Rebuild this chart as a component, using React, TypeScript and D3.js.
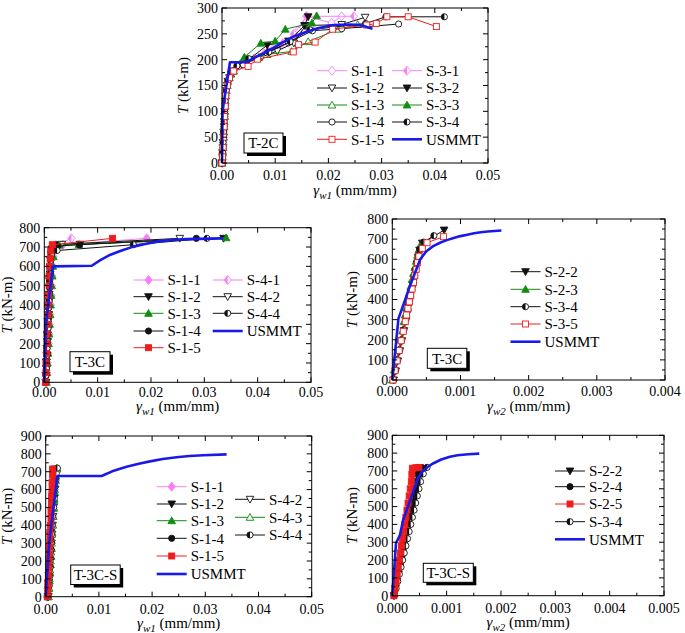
import React from "react";
import * as d3 from "d3";

type Pt = [number, number];

// ================= T-2C (gamma_w1) =================
const t2cRiseA: Pt[] = [[0,0],[0.0001,20],[0.0002,40],[0.0003,60],[0.0004,80],[0.0005,100],[0.0006,120],[0.0008,140],[0.0011,158],[0.0017,172]];
const t2cRiseB: Pt[] = [[0,0],[0.0001,12],[0.0002,30],[0.0003,50],[0.0004,70],[0.0005,90],[0.0006,110],[0.0007,130],[0.001,150],[0.0014,165],[0.0022,178]];
const t2c_S11: Pt[] = [...t2cRiseA, [0.0032,188],[0.006,202],[0.0095,220],[0.0125,233],[0.0143,257],[0.0158,284],[0.0206,271],[0.0225,284]];
const t2c_S31: Pt[] = [...t2cRiseB, [0.0045,196],[0.008,212],[0.0115,232],[0.0135,250],[0.016,284],[0.0248,284]];
const t2c_S12: Pt[] = [...t2cRiseA, [0.004,192],[0.0075,205],[0.0104,217],[0.0135,232],[0.0157,266],[0.0225,268],[0.0269,282]];
const t2c_S32: Pt[] = [...t2cRiseB, [0.005,200],[0.0085,228],[0.0125,236],[0.0155,266],[0.0162,283]];
const t2c_S13: Pt[] = [...t2cRiseA, [0.0045,195],[0.0085,210],[0.0131,216],[0.0162,235],[0.0219,259],[0.0255,268]];
const t2c_S33: Pt[] = [...t2cRiseB, [0.0042,205],[0.0073,232],[0.0100,236],[0.0119,259],[0.0169,271],[0.0178,285]];
const t2c_S14: Pt[] = [...t2cRiseB, [0.004,190],[0.0085,213],[0.0125,233],[0.017,256],[0.0225,260],[0.0332,269]];
const t2c_S34: Pt[] = [...t2cRiseA, [0.0028,188],[0.005,202],[0.0088,215],[0.0128,235],[0.0165,258],[0.027,270],[0.0308,283],[0.0418,283]];
const t2c_S15: Pt[] = [...t2cRiseB, [0.0049,187],[0.0067,201],[0.0134,215],[0.0144,229],[0.0175,234],[0.0208,259],[0.0272,267],[0.029,270],[0.031,283],[0.035,283],[0.0403,264]];
const t2c_USMMT: Pt[] = [[0,0],[0.0001,100],[0.0015,195],[0.0045,195],[0.006,203],[0.0085,216],[0.0115,234],[0.0135,245],[0.0159,254],[0.018,261],[0.0209,267],[0.024,268],[0.026,267],[0.0283,260]];

// ================= T-3C (gamma_w1) =================
const t3cRiseK: Pt[] = [[0.0003,0],[0.0003,35],[0.0004,70],[0.0004,105],[0.0005,140],[0.0005,175],[0.0006,210],[0.0006,245],[0.0007,280],[0.0007,315],[0.0008,350],[0.0008,385],[0.0009,420],[0.0009,455],[0.001,490],[0.001,525],[0.0011,560],[0.0011,595],[0.0012,630],[0.0013,660]];
const t3cRiseP: Pt[] = [[0.0004,0],[0.0005,50],[0.0006,100],[0.0007,150],[0.0008,200],[0.0009,250],[0.001,300],[0.0011,350],[0.0012,400],[0.0013,450],[0.0014,500],[0.0015,550],[0.0016,600],[0.0017,650]];
const t3cRiseR: Pt[] = [[0.0002,0],[0.0003,50],[0.0003,100],[0.0004,150],[0.0005,200],[0.0005,250],[0.0006,300],[0.0007,350],[0.0007,400],[0.0008,450],[0.0009,500],[0.0009,550],[0.001,600],[0.0011,640]];
const t3c_S11: Pt[] = [...t3cRiseP, [0.0019,700],[0.0035,712],[0.0192,745]];
const t3c_S12: Pt[] = [...t3cRiseK, [0.0015,690],[0.0027,712],[0.0067,714],[0.0336,745]];
const t3c_S13: Pt[] = [...t3cRiseP, [0.0019,690],[0.0028,710],[0.0065,713],[0.0341,748]];
const t3c_S14: Pt[] = [...t3cRiseK, [0.0016,690],[0.0025,705],[0.0066,712],[0.0285,745]];
const t3c_S15: Pt[] = [...t3cRiseR, [0.0012,680],[0.0015,712],[0.0128,745]];
const t3c_S41: Pt[] = [...t3cRiseP, [0.0022,710],[0.0051,745]];
const t3c_S42: Pt[] = [...t3cRiseK, [0.0018,700],[0.0033,714],[0.0254,745]];
const t3c_S44: Pt[] = [...t3cRiseK, [0.0024,682],[0.0167,712],[0.0305,745]];
const t3c_USMMT: Pt[] = [[0,0],[0.0003,300],[0.0016,600],[0.0089,603],[0.0105,632],[0.0123,659],[0.0145,682],[0.0167,702],[0.0189,716],[0.0211,728],[0.0238,736],[0.0267,741],[0.0335,745]];

// ================= T-3C (gamma_w2) =================
const t3cw2_S22: Pt[] = [[0.00002,0],[0.00005,45],[0.00008,95],[0.00011,145],[0.00014,195],[0.00017,245],[0.0002,295],[0.00022,330],[0.00024,365],[0.00026,400],[0.00028,435],[0.0003,470],[0.00032,505],[0.00034,540],[0.00036,575],[0.00038,610],[0.0004,645],[0.00044,680],[0.00076,745]];
const t3cw2_S23: Pt[] = [[0,0],[0.00003,50],[0.00006,100],[0.00009,150],[0.00012,200],[0.00015,245],[0.00017,290],[0.00019,325],[0.00021,360],[0.00023,395],[0.00025,430],[0.00027,465],[0.00029,500],[0.00031,530],[0.00033,560],[0.00035,590],[0.00037,620],[0.00039,648],[0.00043,680]];
const t3cw2_S34: Pt[] = [[0.00002,0],[0.00005,50],[0.00008,100],[0.00011,150],[0.00014,200],[0.00017,250],[0.0002,300],[0.00023,350],[0.00025,390],[0.00027,430],[0.0003,470],[0.00032,510],[0.00034,550],[0.00036,590],[0.00038,620],[0.0004,650],[0.00046,685],[0.00061,717]];
const t3cw2_S35: Pt[] = [[0.00001,0],[0.00004,46],[0.00007,95],[0.0001,146],[0.00013,195],[0.00016,242],[0.00019,290],[0.00021,323],[0.00023,355],[0.00025,388],[0.00027,420],[0.00029,452],[0.00031,485],[0.00033,518],[0.00035,550],[0.00037,583],[0.00039,615],[0.00044,654],[0.00051,682],[0.00075,712]];
const t3cw2_USMMT: Pt[] = [[0,0],[0.00009,305],[0.00017,380],[0.00025,460],[0.00041,600],[0.0005,640],[0.0006,665],[0.0007,682],[0.0008,695],[0.0009,706],[0.001,715],[0.0011,722],[0.0012,729],[0.0013,734],[0.0014,738],[0.0016,743]];

// ================= T-3C-S (gamma_w1) =================
const t3cs_S11: Pt[] = [[0.0002,0],[0.0003,45],[0.0004,90],[0.0005,135],[0.0005,180],[0.0006,225],[0.0007,270],[0.0007,315],[0.0008,360],[0.0009,405],[0.0009,450],[0.001,495],[0.0011,540],[0.0011,585],[0.0012,630]];
const t3cs_S15: Pt[] = [[0.0003,0],[0.0004,40],[0.0004,80],[0.0005,120],[0.0006,160],[0.0006,200],[0.0007,240],[0.0007,280],[0.0008,320],[0.0008,360],[0.0009,400],[0.001,440],[0.001,480],[0.0011,520],[0.0011,560],[0.0012,600],[0.0012,640],[0.0013,680],[0.0013,715]];
const t3cs_S12: Pt[] = [[0.0004,0],[0.0005,40],[0.0006,80],[0.0006,120],[0.0007,160],[0.0008,200],[0.0008,240],[0.0009,280],[0.001,320],[0.001,360],[0.0011,400],[0.0012,440],[0.0012,480],[0.0013,520],[0.0014,560],[0.0015,600],[0.0016,640],[0.0017,680],[0.0018,715]];
const t3cs_S13: Pt[] = [[0.0005,0],[0.0006,45],[0.0007,90],[0.0008,135],[0.0009,180],[0.001,225],[0.0011,270],[0.0011,315],[0.0012,360],[0.0013,405],[0.0014,450],[0.0015,495],[0.0016,540],[0.0017,585],[0.0018,630],[0.0019,675],[0.0021,720]];
const t3cs_S14: Pt[] = [[0.0004,0],[0.0005,45],[0.0006,90],[0.0007,135],[0.0007,180],[0.0008,225],[0.0009,270],[0.001,315],[0.001,360],[0.0011,405],[0.0012,450],[0.0013,495],[0.0013,540],[0.0014,585],[0.0015,630],[0.0016,675],[0.0017,712]];
const t3cs_S42: Pt[] = [[0.0005,0],[0.0006,50],[0.0007,100],[0.0008,150],[0.0009,200],[0.001,250],[0.0011,300],[0.0012,350],[0.0013,400],[0.0014,450],[0.0015,500],[0.0016,550],[0.0017,600],[0.0018,650],[0.002,700]];
const t3cs_S43: Pt[] = [[0.0005,0],[0.0006,50],[0.0007,100],[0.0008,150],[0.0009,200],[0.001,250],[0.0011,300],[0.0012,350],[0.0013,400],[0.0014,450],[0.0015,500],[0.0016,550],[0.0017,600],[0.0019,650],[0.0021,715]];
const t3cs_S44: Pt[] = [[0.0004,0],[0.0005,50],[0.0006,100],[0.0007,150],[0.0008,200],[0.0009,250],[0.001,300],[0.0011,350],[0.0012,400],[0.0013,450],[0.0015,500],[0.0016,550],[0.0017,600],[0.0019,650],[0.002,690],[0.0022,720]];
const t3cs_USMMT: Pt[] = [[0,0],[0.00068,308],[0.0022,676],[0.0105,676],[0.0125,702],[0.0152,728],[0.0175,745],[0.0196,758],[0.022,771],[0.0246,781],[0.027,788],[0.0296,792],[0.034,797]];

// ================= T-3C-S (gamma_w2) =================
const t3csw2_S22: Pt[] = [[0.00003,0],[0.00006,40],[0.00008,80],[0.00011,120],[0.00013,160],[0.00016,200],[0.00018,240],[0.00021,280],[0.00023,320],[0.00026,360],[0.00028,400],[0.00031,440],[0.00033,480],[0.00036,520],[0.00038,560],[0.00041,600],[0.00043,640],[0.00046,680],[0.0005,718]];
const t3csw2_S24: Pt[] = [[0.00003,0],[0.00006,45],[0.00009,90],[0.00012,135],[0.00015,180],[0.00018,225],[0.00021,270],[0.00024,315],[0.00027,360],[0.0003,405],[0.00033,450],[0.00036,495],[0.00039,540],[0.00042,585],[0.00045,630],[0.00048,675],[0.00055,718]];
const t3csw2_S25: Pt[] = [[0.00003,0],[0.00005,40],[0.00007,80],[0.00009,120],[0.00011,160],[0.00013,200],[0.00015,240],[0.00017,280],[0.00019,320],[0.00021,360],[0.00023,400],[0.00025,440],[0.00027,480],[0.00029,520],[0.00031,560],[0.00033,600],[0.00035,640],[0.00036,680],[0.00037,715],[0.00043,718],[0.00049,720]];
const t3csw2_S34: Pt[] = [[0.00004,0],[0.00007,40],[0.0001,80],[0.00013,120],[0.00016,160],[0.00019,200],[0.00022,240],[0.00025,280],[0.00028,320],[0.00031,360],[0.00034,400],[0.00037,440],[0.0004,480],[0.00043,520],[0.00046,560],[0.00049,600],[0.00052,640],[0.00057,684],[0.00064,720]];
const t3csw2_USMMT: Pt[] = [[0,0],[0.000068,294],[0.00014,340],[0.0002,425],[0.00048,665],[0.00055,695],[0.00065,722],[0.00075,742],[0.0009,764],[0.00106,780],[0.0012,788],[0.0014,794],[0.0016,797]];

// ================= ticks =================
const ticksX05 = [0, 0.01, 0.02, 0.03, 0.04, 0.05];
const ticksX004 = [0, 0.001, 0.002, 0.003, 0.004];
const ticksX005 = [0, 0.001, 0.002, 0.003, 0.004, 0.005];
const ticksY300 = [0, 50, 100, 150, 200, 250, 300];
const ticksY800 = [0, 100, 200, 300, 400, 500, 600, 700, 800];
const ticksY900 = [0, 100, 200, 300, 400, 500, 600, 700, 800, 900];

const FONT = "Liberation Serif";
const PINK = "#f77ff7";
const GREEN = "#118c11";
const RED = "#f01c1c";
const BLACK = "#111";
const BLUE = "#1a1ae8";

type Kind = "diamond" | "diamondFill" | "diamondHalf" | "triDown" | "triDownFill" | "triUp" | "triUpFill" | "circle" | "circleFill" | "circleHalf" | "square" | "squareFill";
interface Series { name: string; data: Pt[]; color: string; kind: Kind; }

function Marker({ kind, color, cx, cy }: { kind: Kind; color: string; cx: number; cy: number }) {
  const sw = 0.9;
  switch (kind) {
    case "diamond":
    case "diamondFill":
    case "diamondHalf": {
      const d = `M${cx},${cy - 4.5}L${cx + 3.6},${cy}L${cx},${cy + 4.5}L${cx - 3.6},${cy}Z`;
      return (
        <g>
          <path d={d} fill={kind === "diamondFill" ? color : "#fff"} stroke={color} strokeWidth={sw} />
          {kind === "diamondHalf" && <path d={`M${cx},${cy - 4.5}L${cx - 3.6},${cy}L${cx},${cy + 4.5}Z`} fill={color} />}
        </g>
      );
    }
    case "triDown":
    case "triDownFill":
      return <path d={`M${cx - 3.8},${cy - 3}L${cx + 3.8},${cy - 3}L${cx},${cy + 3.8}Z`} fill={kind === "triDownFill" ? color : "#fff"} stroke={color} strokeWidth={sw} />;
    case "triUp":
    case "triUpFill":
      return <path d={`M${cx - 3.8},${cy + 3}L${cx + 3.8},${cy + 3}L${cx},${cy - 3.8}Z`} fill={kind === "triUpFill" ? color : "#fff"} stroke={color} strokeWidth={sw} />;
    case "circle":
    case "circleFill":
    case "circleHalf":
      return (
        <g>
          <circle cx={cx} cy={cy} r={3.1} fill={kind === "circleFill" ? color : "#fff"} stroke={color} strokeWidth={sw} />
          {kind === "circleHalf" && <path d={`M${cx},${cy - 3.1}A3.1,3.1 0 0 0 ${cx},${cy + 3.1}Z`} fill={color} />}
        </g>
      );
    case "square":
    case "squareFill":
      return <rect x={cx - 3} y={cy - 3} width={6} height={6} fill={kind === "squareFill" ? color : "#fff"} stroke={color} strokeWidth={sw} />;
  }
  return null;
}

interface LegendItem { name: string; x: number; y: number; }
interface PanelCfg {
  left: number; right: number; top: number; bottom: number;
  xDomain: [number, number]; yDomain: [number, number];
  xTicks: number[]; yTicks: number[]; xFmt: string;
  series: Series[]; usmmt: Pt[];
  legend: LegendItem[];
  box: { x: number; y: number; w: number; h: number; label: string };
  yLabelX: number; xLabelY: number; xSub: string; xTickDy: number;
}

function Panel({ c }: { c: PanelCfg }) {
  const x = d3.scaleLinear().domain(c.xDomain).range([c.left, c.right]);
  const y = d3.scaleLinear().domain(c.yDomain).range([c.bottom, c.top]);
  const line = d3.line<Pt>().x(d => x(d[0])).y(d => y(d[1]));
  const fmt = d3.format(c.xFmt);
  const xStep = c.xTicks[1] - c.xTicks[0];
  const yStep = c.yTicks[1] - c.yTicks[0];
  const xMinor = c.xTicks.slice(0, -1).map(t => t + xStep / 2);
  const yMinor = c.yTicks.slice(0, -1).map(t => t + yStep / 2);
  const allSeries = c.series;
  const byName = new Map(allSeries.map(s => [s.name, s]));
  const midY = (c.top + c.bottom) / 2;
  const midX = (c.left + c.right) / 2;
  const tf = { fontFamily: FONT };
  return (
    <g>
      {allSeries.map(s => (
        <g key={s.name}>
          <path d={line(s.data) || ""} fill="none" stroke={s.color} strokeWidth={1} />
          {s.data.map((p, i) => <Marker key={i} kind={s.kind} color={s.color} cx={x(p[0])} cy={y(p[1])} />)}
        </g>
      ))}
      <path d={line(c.usmmt) || ""} fill="none" stroke={BLUE} strokeWidth={2.6} strokeLinejoin="round" />
      <rect x={c.left} y={c.top} width={c.right - c.left} height={c.bottom - c.top} fill="none" stroke="#000" strokeWidth={1} />
      {c.xTicks.map(t => (
        <g key={"xt" + t}>
          <line x1={x(t)} x2={x(t)} y1={c.bottom} y2={c.bottom - 5} stroke="#000" />
          <line x1={x(t)} x2={x(t)} y1={c.top} y2={c.top + 5} stroke="#000" />
          <text style={tf} x={x(t)} y={c.bottom + c.xTickDy} textAnchor="middle" fontSize={14}>{fmt(t)}</text>
        </g>
      ))}
      {xMinor.map(t => (
        <g key={"xm" + t}>
          <line x1={x(t)} x2={x(t)} y1={c.bottom} y2={c.bottom - 3} stroke="#000" />
          <line x1={x(t)} x2={x(t)} y1={c.top} y2={c.top + 3} stroke="#000" />
        </g>
      ))}
      {c.yTicks.map(t => (
        <g key={"yt" + t}>
          <line x1={c.left} x2={c.left + 5} y1={y(t)} y2={y(t)} stroke="#000" />
          <line x1={c.right} x2={c.right - 5} y1={y(t)} y2={y(t)} stroke="#000" />
          <text style={tf} x={c.left - 4} y={y(t)} dy="0.35em" textAnchor="end" fontSize={14}>{t}</text>
        </g>
      ))}
      {yMinor.map(t => (
        <g key={"ym" + t}>
          <line x1={c.left} x2={c.left + 3} y1={y(t)} y2={y(t)} stroke="#000" />
          <line x1={c.right} x2={c.right - 3} y1={y(t)} y2={y(t)} stroke="#000" />
        </g>
      ))}
      <text style={tf} transform={`translate(${c.yLabelX},${midY}) rotate(-90)`} textAnchor="middle" fontSize={15}>
        <tspan fontStyle="italic">T</tspan> (kN-m)
      </text>
      <text style={tf} x={midX} y={c.xLabelY} textAnchor="middle" fontSize={15}>
        <tspan fontStyle="italic">γ</tspan>
        <tspan fontStyle="italic" fontSize={11} dy={3.5}>{c.xSub}</tspan>
        <tspan dy={-3.5}> (mm/mm)</tspan>
      </text>
      {c.legend.map(it => {
        const s = byName.get(it.name);
        return (
          <g key={"lg" + it.name}>
            {s ? (
              <g>
                <line x1={it.x} x2={it.x + 30} y1={it.y} y2={it.y} stroke={s.color} strokeWidth={1} />
                <Marker kind={s.kind} color={s.color} cx={it.x + 15} cy={it.y} />
              </g>
            ) : (
              <line x1={it.x} x2={it.x + 30} y1={it.y} y2={it.y} stroke={BLUE} strokeWidth={2.6} />
            )}
            <text style={tf} x={it.x + 34} y={it.y} dy="0.35em" fontSize={15}>{it.name}</text>
          </g>
        );
      })}
      <rect x={c.box.x + 3} y={c.box.y + 3} width={c.box.w} height={c.box.h} fill="#000" />
      <rect x={c.box.x} y={c.box.y} width={c.box.w} height={c.box.h} fill="#fff" stroke="#000" strokeWidth={1} />
      <text style={tf} x={c.box.x + c.box.w / 2} y={c.box.y + c.box.h / 2} dy="0.35em" textAnchor="middle" fontSize={15}>{c.box.label}</text>
    </g>
  );
}

const S = (name: string, data: Pt[], color: string, kind: Kind): Series => ({ name, data, color, kind });

const panels: PanelCfg[] = [
  {
    left: 222, right: 488, top: 8, bottom: 163,
    xDomain: [0, 0.05], yDomain: [0, 300], xTicks: ticksX05, yTicks: ticksY300, xFmt: ".2f",
    series: [
      S("S-1-1", t2c_S11, PINK, "diamond"),
      S("S-3-1", t2c_S31, PINK, "diamondHalf"),
      S("S-1-2", t2c_S12, BLACK, "triDown"),
      S("S-3-2", t2c_S32, BLACK, "triDownFill"),
      S("S-1-3", t2c_S13, GREEN, "triUp"),
      S("S-3-3", t2c_S33, GREEN, "triUpFill"),
      S("S-1-4", t2c_S14, BLACK, "circle"),
      S("S-3-4", t2c_S34, BLACK, "circleHalf"),
      S("S-1-5", t2c_S15, RED, "square"),
    ],
    usmmt: t2c_USMMT,
    legend: [
      { name: "S-1-1", x: 317, y: 70.7 }, { name: "S-1-2", x: 317, y: 88 }, { name: "S-1-3", x: 317, y: 105 },
      { name: "S-1-4", x: 317, y: 122 }, { name: "S-1-5", x: 317, y: 139.3 },
      { name: "S-3-1", x: 392, y: 70.7 }, { name: "S-3-2", x: 392, y: 88 }, { name: "S-3-3", x: 392, y: 105 },
      { name: "S-3-4", x: 392, y: 122 }, { name: "USMMT", x: 392, y: 139.3 },
    ],
    box: { x: 244, y: 133, w: 39, h: 20, label: "T-2C" },
    yLabelX: 188, xLabelY: 195, xSub: "w1", xTickDy: 16.5,
  },
  {
    left: 44.3, right: 311, top: 227.7, bottom: 382.3,
    xDomain: [0, 0.05], yDomain: [0, 800], xTicks: ticksX05, yTicks: ticksY800, xFmt: ".2f",
    series: [
      S("S-1-1", t3c_S11, PINK, "diamondFill"),
      S("S-4-1", t3c_S41, PINK, "diamondHalf"),
      S("S-1-2", t3c_S12, BLACK, "triDownFill"),
      S("S-4-2", t3c_S42, BLACK, "triDown"),
      S("S-1-3", t3c_S13, GREEN, "triUpFill"),
      S("S-1-4", t3c_S14, BLACK, "circleFill"),
      S("S-4-4", t3c_S44, BLACK, "circleHalf"),
      S("S-1-5", t3c_S15, RED, "squareFill"),
    ],
    usmmt: t3c_USMMT,
    legend: [
      { name: "S-1-1", x: 133.5, y: 280 }, { name: "S-1-2", x: 133.5, y: 296.7 }, { name: "S-1-3", x: 133.5, y: 313.3 },
      { name: "S-1-4", x: 133.5, y: 331 }, { name: "S-1-5", x: 133.5, y: 347.7 },
      { name: "S-4-1", x: 212.7, y: 280 }, { name: "S-4-2", x: 212.7, y: 296.7 }, { name: "S-4-4", x: 212.7, y: 313.3 },
      { name: "USMMT", x: 212.7, y: 331 },
    ],
    box: { x: 70, y: 351.7, w: 40, h: 20, label: "T-3C" },
    yLabelX: 12, xLabelY: 411, xSub: "w1", xTickDy: 15,
  },
  {
    left: 392.3, right: 665, top: 219, bottom: 380,
    xDomain: [0, 0.004], yDomain: [0, 800], xTicks: ticksX004, yTicks: ticksY800, xFmt: ".3f",
    series: [
      S("S-2-2", t3cw2_S22, BLACK, "triDownFill"),
      S("S-2-3", t3cw2_S23, GREEN, "triUpFill"),
      S("S-3-4", t3cw2_S34, BLACK, "circleHalf"),
      S("S-3-5", t3cw2_S35, RED, "square"),
    ],
    usmmt: t3cw2_USMMT,
    legend: [
      { name: "S-2-2", x: 510.5, y: 271.7 }, { name: "S-2-3", x: 510.5, y: 289.3 }, { name: "S-3-4", x: 510.5, y: 306.7 },
      { name: "S-3-5", x: 510.5, y: 324 }, { name: "USMMT", x: 510.5, y: 341.7 },
    ],
    box: { x: 427.3, y: 348.3, w: 39.5, h: 20, label: "T-3C" },
    yLabelX: 357, xLabelY: 411, xSub: "w2", xTickDy: 16,
  },
  {
    left: 45.7, right: 311.7, top: 436, bottom: 596.7,
    xDomain: [0, 0.05], yDomain: [0, 900], xTicks: ticksX05, yTicks: ticksY900, xFmt: ".2f",
    series: [
      S("S-1-1", t3cs_S11, PINK, "diamondFill"),
      S("S-1-2", t3cs_S12, BLACK, "triDownFill"),
      S("S-1-3", t3cs_S13, GREEN, "triUpFill"),
      S("S-1-4", t3cs_S14, BLACK, "circleFill"),
      S("S-4-2", t3cs_S42, BLACK, "triDown"),
      S("S-4-3", t3cs_S43, GREEN, "triUp"),
      S("S-4-4", t3cs_S44, BLACK, "circleHalf"),
      S("S-1-5", t3cs_S15, RED, "squareFill"),
    ],
    usmmt: t3cs_USMMT,
    legend: [
      { name: "S-1-1", x: 156.7, y: 486.7 }, { name: "S-1-2", x: 156.7, y: 504 }, { name: "S-1-3", x: 156.7, y: 520.7 },
      { name: "S-1-4", x: 156.7, y: 538.3 }, { name: "S-1-5", x: 156.7, y: 556 }, { name: "USMMT", x: 156.7, y: 574 },
      { name: "S-4-2", x: 235, y: 499.3 }, { name: "S-4-3", x: 235, y: 517.3 }, { name: "S-4-4", x: 235, y: 535 },
    ],
    box: { x: 70.7, y: 565, w: 49.5, h: 19.5, label: "T-3C-S" },
    yLabelX: 12, xLabelY: 628, xSub: "w1", xTickDy: 17,
  },
  {
    left: 392.3, right: 664, top: 435.3, bottom: 595.7,
    xDomain: [0, 0.005], yDomain: [0, 900], xTicks: ticksX005, yTicks: ticksY900, xFmt: ".3f",
    series: [
      S("S-2-2", t3csw2_S22, BLACK, "triDownFill"),
      S("S-2-4", t3csw2_S24, BLACK, "circleFill"),
      S("S-3-4", t3csw2_S34, BLACK, "circleHalf"),
      S("S-2-5", t3csw2_S25, RED, "squareFill"),
    ],
    usmmt: t3csw2_USMMT,
    legend: [
      { name: "S-2-2", x: 555, y: 471 }, { name: "S-2-4", x: 555, y: 486.7 }, { name: "S-2-5", x: 555, y: 504 },
      { name: "S-3-4", x: 555, y: 521.7 }, { name: "USMMT", x: 555, y: 539.3 },
    ],
    box: { x: 423.3, y: 563.3, w: 50, h: 19, label: "T-3C-S" },
    yLabelX: 357, xLabelY: 627, xSub: "w2", xTickDy: 17.5,
  },
];

export default function App() {
  return (
    <div style={{ position: "absolute", left: 0, top: 0, width: 685, height: 633, background: "#fff" }}>
      <svg width={685} height={633} style={{ display: "block", fontFamily: FONT }}>
        <rect width={685} height={633} fill="#fff" />
        {panels.map((p, i) => <Panel key={i} c={p} />)}
      </svg>
    </div>
  );
}
